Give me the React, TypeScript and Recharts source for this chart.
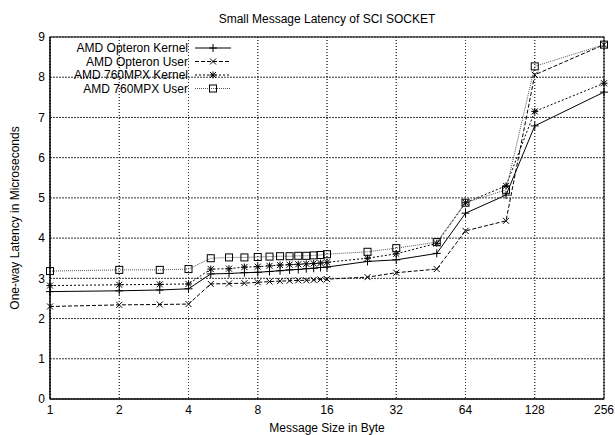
import React from 'react';
import {
  LineChart,
  Line,
  XAxis,
  YAxis,
  CartesianGrid,
  Label,
} from 'recharts';

// message sizes in byte (log2 x axis)
const sizes = [1, 2, 3, 4, 5, 6, 7, 8, 9, 10, 11, 12, 13, 14, 15, 16, 24, 32, 48, 64, 96, 128, 256];

// one-way latency in microseconds
const opteronKernel = [2.67, 2.69, 2.71, 2.74, 3.11, 3.12, 3.14, 3.15, 3.17, 3.19, 3.21, 3.22, 3.24, 3.25, 3.27, 3.28, 3.42, 3.46, 3.62, 4.62, 5.07, 6.79, 7.63];
const opteronUser = [2.30, 2.34, 2.35, 2.36, 2.86, 2.87, 2.88, 2.90, 2.92, 2.93, 2.94, 2.95, 2.95, 2.96, 2.97, 2.98, 3.03, 3.14, 3.23, 4.18, 4.43, 8.06, 8.81];
const mpxKernel = [2.82, 2.84, 2.85, 2.86, 3.23, 3.24, 3.28, 3.29, 3.31, 3.33, 3.34, 3.35, 3.36, 3.37, 3.38, 3.40, 3.50, 3.61, 3.87, 4.88, 5.30, 7.15, 7.85];
const mpxUser = [3.18, 3.21, 3.21, 3.23, 3.50, 3.52, 3.52, 3.53, 3.54, 3.55, 3.55, 3.56, 3.56, 3.57, 3.58, 3.60, 3.66, 3.75, 3.90, 4.88, 5.20, 8.27, 8.81];

const xTicks = [1, 2, 4, 8, 16, 32, 64, 128, 256];
const yTicks = [0, 1, 2, 3, 4, 5, 6, 7, 8, 9];

const data = sizes.map((s, i) => ({
  size: s,
  ok: opteronKernel[i],
  ou: opteronUser[i],
  mk: mpxKernel[i],
  mu: mpxUser[i],
}));

const FONT = '"Liberation Sans", Arial, Helvetica, sans-serif';

// chart box
const W = 615;
const H = 435;
const margin = { top: 37, right: 11, bottom: 0, left: 0 };
const xAxisH = 36;
const yAxisW = 50;
const plotW = W - margin.right - yAxisW;
const plotH = H - margin.top - xAxisH;

// gnuplot style point markers, plain svg
const mark = (kind: string, cx: number, cy: number, key?: string) => {
  if (kind === 'plus')
    return (
      <g key={key} stroke="#000" strokeWidth={1}>
        <line x1={cx - 4} y1={cy} x2={cx + 4} y2={cy} />
        <line x1={cx} y1={cy - 4} x2={cx} y2={cy + 4} />
      </g>
    );
  if (kind === 'cross')
    return (
      <g key={key} stroke="#000" strokeWidth={1}>
        <line x1={cx - 3} y1={cy - 3} x2={cx + 3} y2={cy + 3} />
        <line x1={cx - 3} y1={cy + 3} x2={cx + 3} y2={cy - 3} />
      </g>
    );
  if (kind === 'star')
    return (
      <g key={key} stroke="#000" strokeWidth={1}>
        <line x1={cx - 3.5} y1={cy} x2={cx + 3.5} y2={cy} />
        <line x1={cx} y1={cy - 3.5} x2={cx} y2={cy + 3.5} />
        <line x1={cx - 3} y1={cy - 3} x2={cx + 3} y2={cy + 3} />
        <line x1={cx - 3} y1={cy + 3} x2={cx + 3} y2={cy - 3} />
      </g>
    );
  return <rect key={key} x={cx - 3.5} y={cy - 3.5} width={7} height={7} fill="none" stroke="#000" strokeWidth={1} />;
};

const series = [
  { key: 'ok', name: 'AMD Opteron Kernel', dash: '', color: '#000', kind: 'plus' },
  { key: 'ou', name: 'AMD Opteron User', dash: '4 2', color: '#000', kind: 'cross' },
  { key: 'mk', name: 'AMD 760MPX Kernel', dash: '2 2', color: '#000', kind: 'star' },
  { key: 'mu', name: 'AMD 760MPX User', dash: '1 1', color: '#555', kind: 'box' },
];

const tickStyle = { fill: '#000', fontSize: 12, fontFamily: FONT };
// tick lines stretched across the plot serve as the dotted grid
const gridLine = { stroke: '#333', strokeWidth: 1, strokeDasharray: '1 2' };

const App = () => {
  return (
    <div style={{ position: 'absolute', left: 0, top: 0, width: W, height: H, background: '#fff' }}>
      <div
        style={{
          position: 'absolute',
          left: yAxisW,
          width: plotW,
          top: 11,
          textAlign: 'center',
          fontFamily: FONT,
          fontSize: 12,
          lineHeight: '16px',
          color: '#000',
        }}
      >
        Small Message Latency of SCI SOCKET
      </div>
      <LineChart width={W} height={H} data={data} margin={margin}>
        <CartesianGrid stroke="#333" strokeDasharray="1 2" />
        <XAxis
          dataKey="size"
          type="number"
          scale="log"
          domain={[1, 256]}
          ticks={xTicks}
          height={xAxisH}
          axisLine={{ stroke: '#000' }}
          tickLine={gridLine}
          tickSize={-plotH}
          tickMargin={plotH + 6}
          tick={tickStyle}
          interval={0}
        >
          <Label
            content={() => (
              <g>
                <rect x={yAxisW} y={margin.top} width={plotW} height={plotH} fill="none" stroke="#000" />
                <text x={yAxisW + plotW / 2} y={428} textAnchor="middle" dominantBaseline="central" fontSize={12} fontFamily={FONT} fill="#000">
                  Message Size in Byte
                </text>
              </g>
            )}
          />
        </XAxis>
        <YAxis
          type="number"
          domain={[0, 9]}
          ticks={yTicks}
          width={yAxisW}
          axisLine={{ stroke: '#000' }}
          tickLine={gridLine}
          tickSize={-plotW}
          tickMargin={plotW + 5}
          tick={tickStyle}
          interval={0}
        >
          <Label
            content={() => (
              <text
                x={15}
                y={margin.top + plotH / 2}
                transform={`rotate(-90 15 ${margin.top + plotH / 2})`}
                textAnchor="middle"
                dominantBaseline="central"
                fontSize={12}
                fontFamily={FONT}
                fill="#000"
              >
                One-way Latency in Microseconds
              </text>
            )}
          />
        </YAxis>
        {series.map((s) => (
          <Line
            key={s.key}
            dataKey={s.key}
            name={s.name}
            type="linear"
            stroke={s.color}
            strokeWidth={1}
            strokeDasharray={s.dash || undefined}
            dot={(p: any) => mark(s.kind, p.cx, p.cy, `${s.key}-${p.index}`)}
            activeDot={false}
            isAnimationActive={false}
          />
        ))}
      </LineChart>
      <svg
        width={180}
        height={62}
        style={{ position: 'absolute', left: 60, top: 40, fontFamily: FONT, fontSize: 12 }}
      >
        {series.map((s, i) => {
          const y = 8 + i * 13.5;
          return (
            <g key={s.key}>
              <text x={128} y={y} textAnchor="end" dominantBaseline="central" fill="#000">
                {s.name}
              </text>
              <line x1={135} y1={y} x2={171} y2={y} stroke={s.color} strokeDasharray={s.dash || undefined} />
              {mark(s.kind, 153, y)}
            </g>
          );
        })}
      </svg>
    </div>
  );
};

export default App;
